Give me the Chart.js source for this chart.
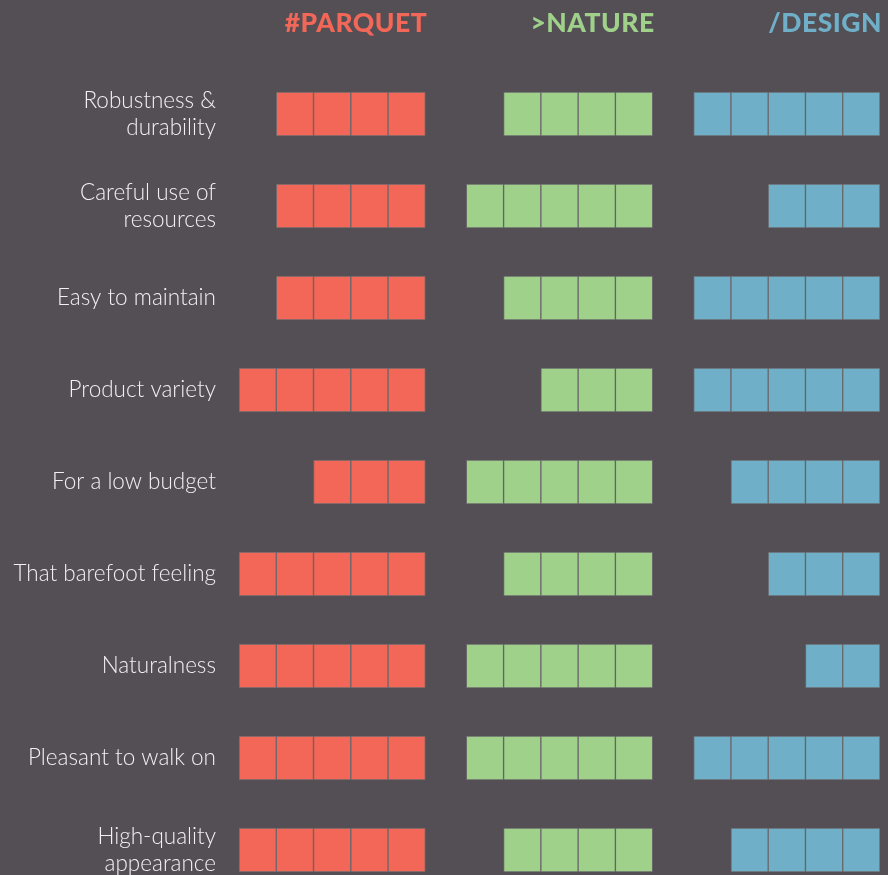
<!DOCTYPE html>
<html>
<head>
<meta charset="utf-8">
<script src="https://cdn.jsdelivr.net/npm/chart.js@4.4.1/dist/chart.umd.min.js"></script>
<style>
    html, body { margin: 0; padding: 0; background: #544f55; overflow: hidden; }
    canvas { display: block; }
</style>
</head>
<body>
<canvas id="chart" width="888" height="900"></canvas>
<script>
// Rows (top to bottom)
const categories = [
    ['Robustness &', 'durability'],
    ['Careful use of', 'resources'],
    'Easy to maintain',
    'Product variety',
    'For a low budget',
    'That barefoot feeling',
    'Naturalness',
    'Pleasant to walk on',
    ['High-quality', 'appearance']
];

// Score out of 5 for each row
const parquet = [4, 4, 4, 5, 3, 5, 5, 5, 5];
const nature = [4, 5, 4, 3, 5, 4, 5, 5, 4];
const design = [5, 3, 5, 5, 4, 3, 2, 5, 4];

const groupTitles = ['#PARQUET', '>NATURE', '/DESIGN'];
const groupColors = ['#f26757', '#9fd18b', '#6fb0c8'];
const groupEnds = [5, 11.1, 17.2];   // right edge of each block on the x scale
const maxScore = 5;

const groups = [parquet, nature, design];

// one dataset per cell position, filled from the right edge of its block
const datasets = [];
groups.forEach((vals, g) => {
    for (let k = 0; k < maxScore; k++) {
        datasets.push({
            label: groupTitles[g] + ' ' + (k + 1),
            data: vals.map(v => k < v ? [groupEnds[g] - k - 1, groupEnds[g] - k] : null),
            backgroundColor: groupColors[g],
            borderColor: '#6a676b',
            borderWidth: 1,
            borderSkipped: false,
            grouped: false,
            barThickness: 44
        });
    }
});

const titlePlugin = {
    id: 'groupTitles',
    afterDraw: function (chart) {
        const ctx = chart.ctx;
        const x = chart.scales.x;
        ctx.save();
        ctx.font = '900 26.5px Lato';
        ctx.letterSpacing = '0.5px';
        ctx.textAlign = 'right';
        ctx.textBaseline = 'alphabetic';
        groupTitles.forEach((t, i) => {
            ctx.fillStyle = groupColors[i];
            ctx.fillText(t, x.getPixelForValue(groupEnds[i]) + 2, 32);
        });
        ctx.restore();
    }
};

new Chart(document.getElementById('chart'), {
    type: 'bar',
    data: { labels: categories, datasets: datasets },
    options: {
        indexAxis: 'y',
        responsive: false,
        animation: false,
        layout: { padding: { top: 68, right: 8, bottom: 4, left: 0 } },
        plugins: { legend: { display: false }, tooltip: { enabled: false } },
        scales: {
            x: { display: false, min: 0, max: 17.2 },
            y: {
                grid: { display: false },
                border: { display: false },
                ticks: {
                    color: '#f2f0f2',
                    padding: 15,
                    font: { family: 'Lato', size: 22.5, weight: 300, lineHeight: 1.2 }
                },
                afterFit: function (s) {
                    s.width = 239;
                    // labels may hang past the plot edges, no extra margin needed
                    s.paddingTop = 0;
                    s.paddingBottom = 0;
                }
            }
        }
    },
    plugins: [titlePlugin]
});
</script>
</body>
</html>
